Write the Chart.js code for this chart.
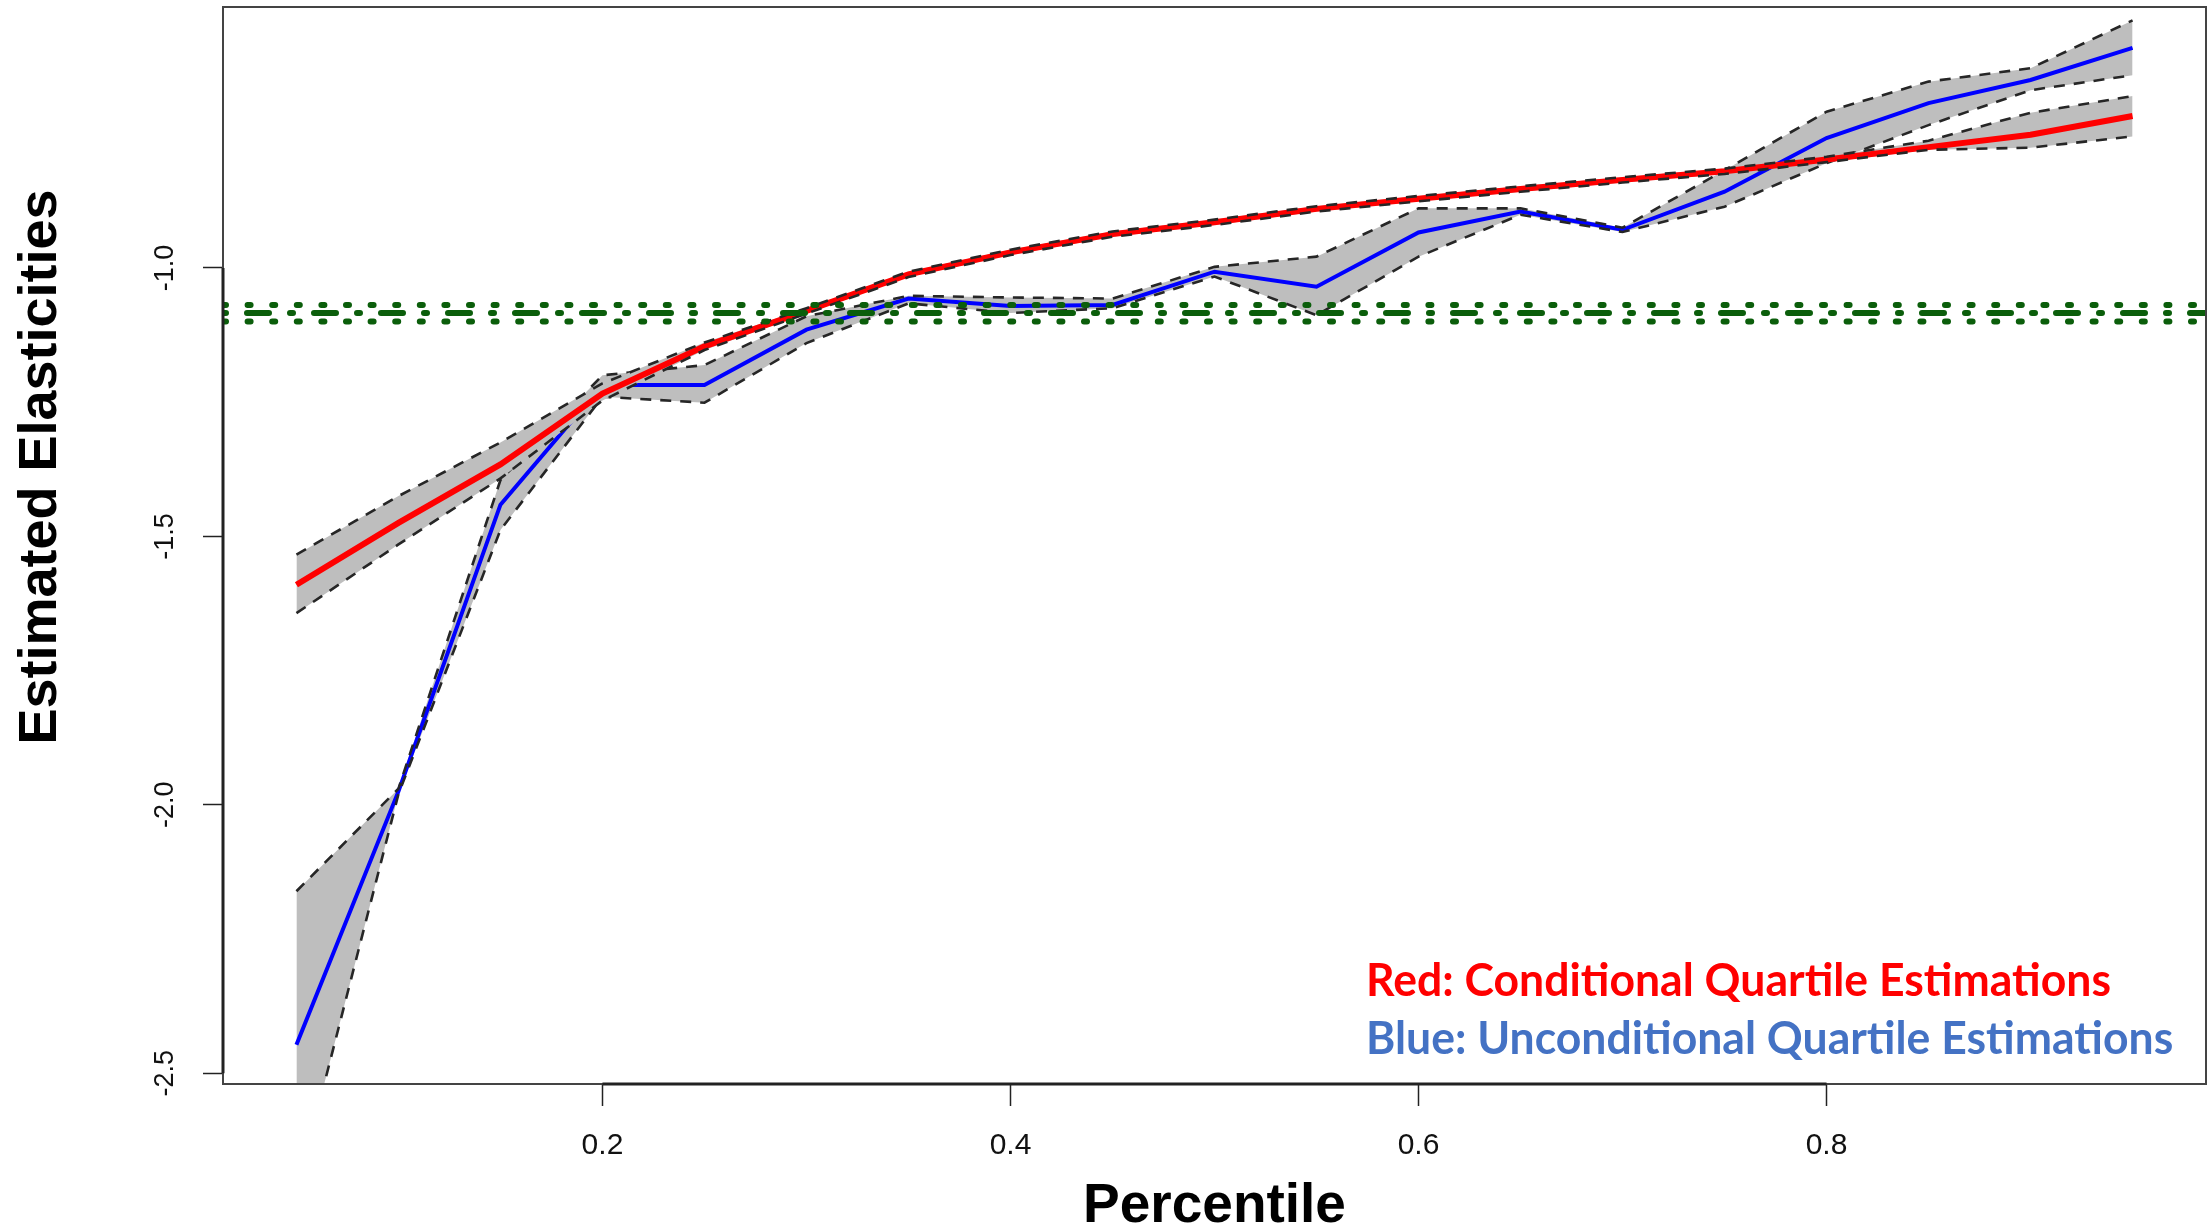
<!DOCTYPE html>
<html>
<head>
<meta charset="utf-8">
<script src="https://cdn.jsdelivr.net/npm/chart.js@4.4.1/dist/chart.umd.min.js"></script>
<style>
html,body{margin:0;padding:0;background:#ffffff;}
#wrap{width:2210px;height:1229px;position:relative;}
</style>
</head>
<body>
<div id="wrap"><canvas id="c" width="2210" height="1229"></canvas></div>
<script>
// ---------------- data ----------------
const percentiles = [0.05,0.10,0.15,0.20,0.25,0.30,0.35,0.40,0.45,0.50,0.55,0.60,0.65,0.70,0.75,0.80,0.85,0.90,0.95];

const condEst   = [-1.590,-1.475,-1.366,-1.234,-1.146,-1.080,-1.012,-0.971,-0.937,-0.915,-0.890,-0.871,-0.853,-0.836,-0.820,-0.798,-0.775,-0.752,-0.717];
const condUpper = [-1.534,-1.425,-1.325,-1.215,-1.139,-1.075,-1.007,-0.966,-0.932,-0.910,-0.885,-0.866,-0.848,-0.831,-0.815,-0.793,-0.763,-0.711,-0.680];
const condLower = [-1.643,-1.515,-1.392,-1.247,-1.153,-1.085,-1.017,-0.976,-0.942,-0.920,-0.895,-0.876,-0.858,-0.841,-0.825,-0.803,-0.780,-0.776,-0.755];

const uncondEst   = [-2.447,-1.975,-1.441,-1.218,-1.218,-1.115,-1.057,-1.071,-1.069,-1.007,-1.035,-0.934,-0.895,-0.929,-0.858,-0.758,-0.693,-0.650,-0.590];
const uncondUpper = [-2.161,-1.970,-1.395,-1.200,-1.181,-1.090,-1.052,-1.055,-1.057,-0.998,-0.979,-0.889,-0.889,-0.925,-0.818,-0.709,-0.653,-0.628,-0.539];
const uncondLower = [-2.722,-1.980,-1.488,-1.240,-1.251,-1.140,-1.066,-1.084,-1.075,-1.016,-1.088,-0.979,-0.901,-0.933,-0.886,-0.805,-0.734,-0.669,-0.641];

// horizontal reference lines (dotted, dot-dash, dotted)
const refLineValues = [-1.069,-1.084,-1.100];

const xTickValues = [0.2,0.4,0.6,0.8];
const yTickValues = [-2.5,-2.0,-1.5,-1.0];
const xRange = [0.014,0.986];
const yRange = [-2.52,-0.514];

const xTitle = 'Percentile';
const yTitle = 'Estimated Elasticities';
const noteTexts  = ['Red: Conditional Quartile Estimations','Blue: Unconditional Quartile Estimations'];
const noteColors = ['#FF0000','#4472C4'];

// ---------------- helpers ----------------
const pts = arr => percentiles.map((p,i)=>({x:p,y:arr[i]}));
const hline = v => xRange.map(x=>({x:x,y:v}));

const BAND_GRAY = '#BEBEBE';
const DASH_COL = '#262626';
const GREEN = '#0B5E0B';
const base = {pointRadius:0, pointHoverRadius:0, tension:0, clip:0, fill:false};

const datasets = [
  Object.assign({}, base, {data:pts(uncondLower), borderColor:'rgba(0,0,0,0)', borderWidth:1, order:9}),
  Object.assign({}, base, {data:pts(uncondUpper), borderColor:'rgba(0,0,0,0)', borderWidth:1, fill:'-1', backgroundColor:BAND_GRAY, order:8}),
  Object.assign({}, base, {data:pts(uncondEst), borderColor:'#0000FF', borderWidth:4, order:7}),
  Object.assign({}, base, {data:pts(uncondUpper), borderColor:DASH_COL, borderWidth:2.6, borderDash:[11,9], order:6}),
  Object.assign({}, base, {data:pts(uncondLower), borderColor:DASH_COL, borderWidth:2.6, borderDash:[11,9], order:6}),
  Object.assign({}, base, {data:pts(condLower), borderColor:'rgba(0,0,0,0)', borderWidth:1, order:5}),
  Object.assign({}, base, {data:pts(condUpper), borderColor:'rgba(0,0,0,0)', borderWidth:1, fill:'-1', backgroundColor:BAND_GRAY, order:4}),
  Object.assign({}, base, {data:pts(condEst), borderColor:'#FF0000', borderWidth:6, order:3}),
  Object.assign({}, base, {data:pts(condUpper), borderColor:DASH_COL, borderWidth:2.6, borderDash:[11,9], order:2}),
  Object.assign({}, base, {data:pts(condLower), borderColor:DASH_COL, borderWidth:2.6, borderDash:[11,9], order:2}),
  Object.assign({}, base, {data:hline(refLineValues[0]), borderColor:GREEN, borderWidth:6, borderCapStyle:'round', borderDash:[3,21.6], order:0}),
  Object.assign({}, base, {data:hline(refLineValues[1]), borderColor:GREEN, borderWidth:6, borderCapStyle:'round', borderDash:[3,21,22,21], order:0}),
  Object.assign({}, base, {data:hline(refLineValues[2]), borderColor:GREEN, borderWidth:6, borderCapStyle:'round', borderDash:[3,21.6], order:0})
];

// ---------------- decorations plugin ----------------
const decor = {
  id:'decor',
  afterDraw(chart){
    const ctx = chart.ctx, a = chart.chartArea;
    const xs = chart.scales.x, ys = chart.scales.y;
    ctx.save();
    ctx.strokeStyle = '#444444';
    ctx.lineWidth = 2;
    ctx.strokeRect(a.left, a.top, a.right-a.left, a.bottom-a.top);
    ctx.strokeStyle = '#222222';
    ctx.lineWidth = 3;
    ctx.beginPath();
    ctx.moveTo(xs.getPixelForValue(xTickValues[0]), a.bottom);
    ctx.lineTo(xs.getPixelForValue(xTickValues[xTickValues.length-1]), a.bottom);
    ctx.moveTo(a.left, ys.getPixelForValue(yTickValues[0]));
    ctx.lineTo(a.left, ys.getPixelForValue(yTickValues[yTickValues.length-1]));
    ctx.stroke();
    ctx.fillStyle = '#000000';
    ctx.font = 'bold 54px "Liberation Sans", Arial, sans-serif';
    ctx.textAlign = 'center';
    ctx.textBaseline = 'middle';
    ctx.translate(41, 467);
    ctx.rotate(-Math.PI/2);
    ctx.fillText(yTitle, 0, 0);
    ctx.restore();

    // note text
    ctx.save();
    const fam = 'Lato, "Open Sans", sans-serif';
    const fsize = 45;
    ctx.font = 'bold '+fsize+'px '+fam;
    const w = ctx.measureText(noteTexts[0]).width;
    const sx = 745 / w;
    ctx.textAlign = 'left';
    ctx.textBaseline = 'middle';
    const lx = 1366, ly = [981, 1039];
    noteTexts.forEach((t,i)=>{
      ctx.save();
      ctx.translate(lx, ly[i]);
      ctx.scale(sx, 1);
      ctx.fillStyle = noteColors[i];
      ctx.fillText(t, 0, 0);
      ctx.restore();
    });
    ctx.restore();
  }
};

Chart.defaults.font.family = '"Liberation Sans", Arial, sans-serif';

new Chart(document.getElementById('c'), {
  type:'line',
  data:{datasets:datasets},
  options:{
    responsive:false,
    animation:false,
    devicePixelRatio:1,
    layout:{padding:{left:0,top:7,right:4,bottom:0}},
    plugins:{
      legend:{display:false},
      tooltip:{enabled:false},
      filler:{propagate:false}
    },
    scales:{
      x:{
        type:'linear',
        min:xRange[0], max:xRange[1],
        afterBuildTicks:s=>{ s.ticks = xTickValues.map(v=>({value:v})); },
        afterFit:s=>{ s.height = 145; s.paddingLeft = 0; s.paddingRight = 0; },
        grid:{display:true, drawOnChartArea:false, drawTicks:true, tickLength:22, tickWidth:1.5, tickColor:'#222222'},
        border:{display:false},
        ticks:{font:{size:30}, color:'#111111', padding:22, maxRotation:0, minRotation:0,
               callback:v=>v.toFixed(1)},
        title:{display:true, text:xTitle, color:'#000000',
               font:{size:55, weight:'bold', lineHeight:1.0}, padding:{top:0,bottom:-5}}
      },
      y:{
        type:'linear',
        min:yRange[0], max:yRange[1],
        afterBuildTicks:s=>{ s.ticks = yTickValues.map(v=>({value:v})); },
        afterFit:s=>{ s.width = 223; s.paddingTop = 0; s.paddingBottom = 0; },
        grid:{display:true, drawOnChartArea:false, drawTicks:true, tickLength:20, tickWidth:1.5, tickColor:'#222222'},
        border:{display:false},
        ticks:{font:{size:27}, color:'#111111', padding:14, minRotation:90, maxRotation:90,
               crossAlign:'center', callback:v=>v.toFixed(1)}
      }
    }
  },
  plugins:[decor]
});
</script>
</body>
</html>
